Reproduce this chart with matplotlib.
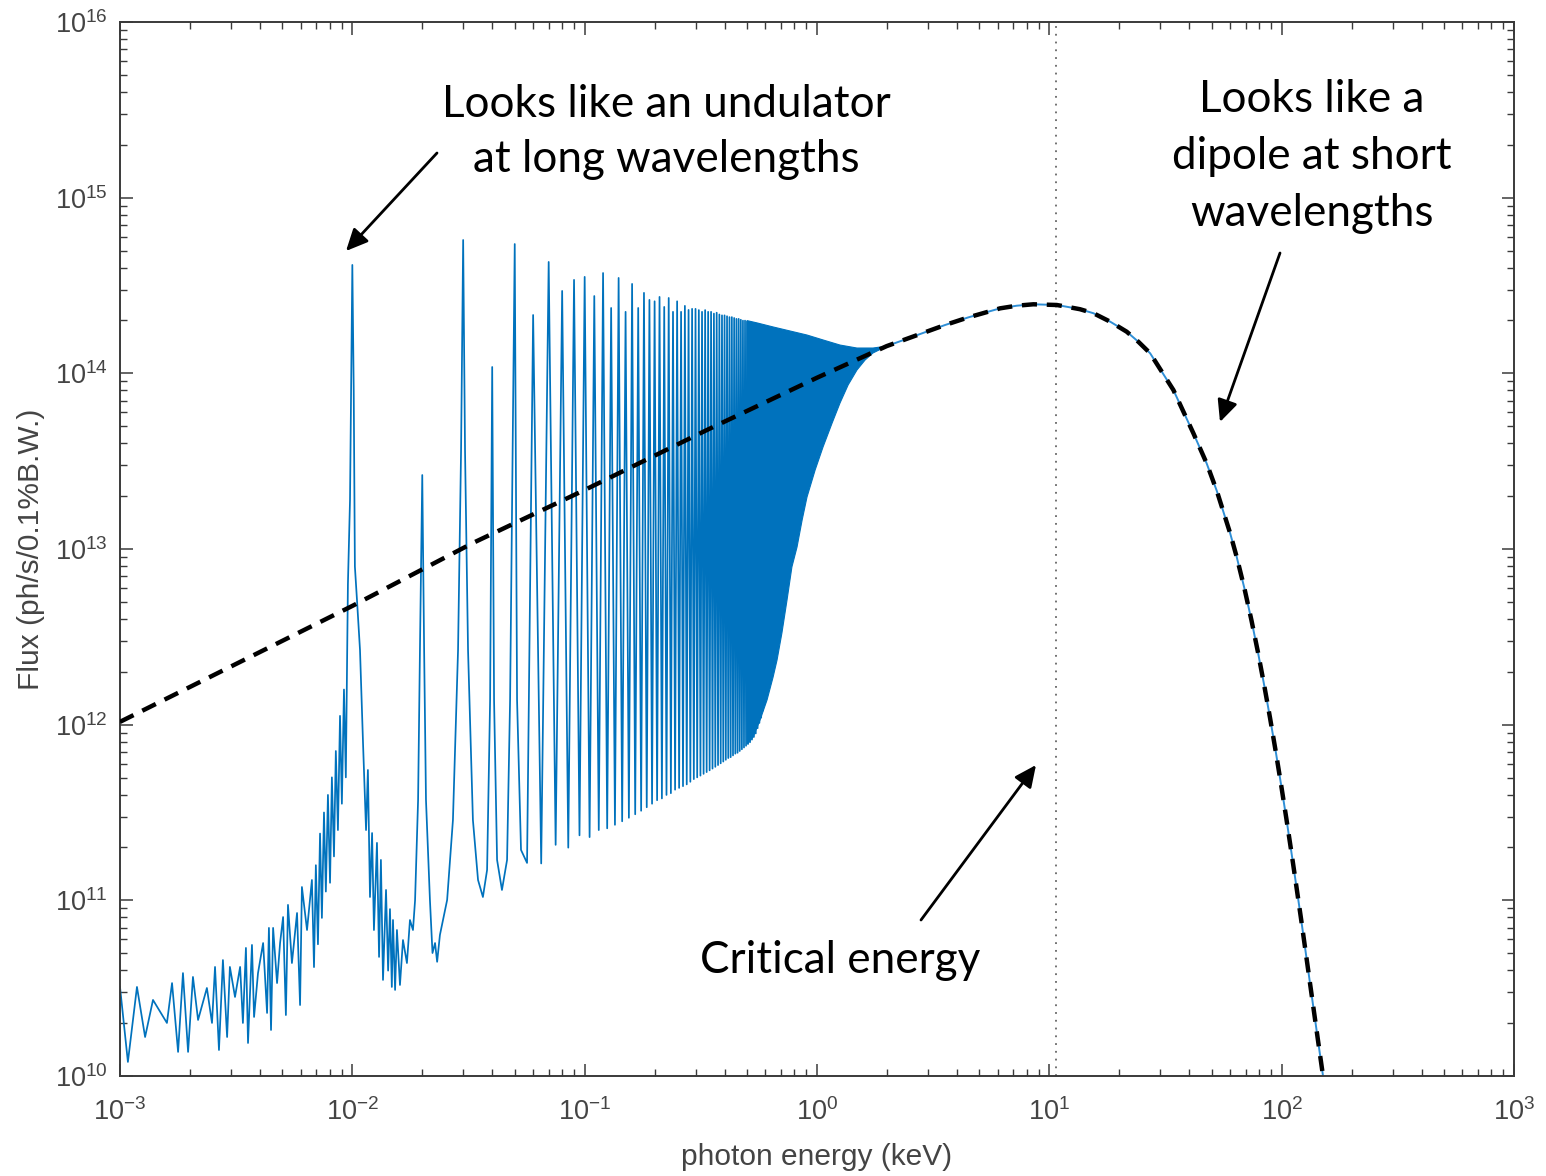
import numpy as np
import matplotlib
matplotlib.use("Agg")
import matplotlib.pyplot as plt
from matplotlib.ticker import LogLocator, NullFormatter

plt.rcParams['font.family'] = ['Liberation Sans', 'DejaVu Sans']
plt.rcParams['mathtext.fontset'] = 'custom'
plt.rcParams['mathtext.rm'] = 'Liberation Sans'
plt.rcParams['mathtext.it'] = 'Liberation Sans:italic'
plt.rcParams['mathtext.default'] = 'regular'

# ---------------- data (log10 values) ----------------
# low-energy noisy part + first five harmonics: log10(E/keV), log10(flux)
low_logE = [-3.000, -2.966, -2.927, -2.892, -2.858, -2.798, -2.776, -2.750, -2.729, -2.707,
            -2.686, -2.664, -2.626, -2.604, -2.591, -2.574, -2.557, -2.539, -2.527, -2.505,
            -2.483, -2.471, -2.458, -2.449, -2.432, -2.423, -2.406, -2.384, -2.367, -2.359,
            -2.350, -2.341, -2.324, -2.311, -2.298, -2.286, -2.277, -2.260, -2.238, -2.225,
            -2.217, -2.195, -2.174, -2.165, -2.157, -2.148, -2.139, -2.131, -2.122, -2.114,
            -2.105, -2.096, -2.088, -2.079, -2.071, -2.062, -2.053, -2.045, -2.036, -2.028,
            -2.019, -2.010, -2.000, -1.994, -1.989, -1.980, -1.967, -1.954, -1.941,
            -1.933, -1.924, -1.915, -1.907, -1.894, -1.885, -1.877, -1.868, -1.855, -1.846,
            -1.838, -1.830, -1.825, -1.816, -1.808, -1.795, -1.782, -1.765, -1.752, -1.739,
            -1.730, -1.717, -1.709,
            -1.699, -1.691, -1.683, -1.666, -1.655, -1.644, -1.635, -1.623, -1.592, -1.567,
            -1.545, -1.532,
            -1.523, -1.515, -1.502, -1.481, -1.459, -1.438, -1.420, -1.407, -1.398, -1.390,
            -1.377, -1.356, -1.334, -1.321, -1.301, -1.291, -1.274, -1.248]
low_logF = [10.507, 10.080, 10.507, 10.222, 10.433, 10.302, 10.529, 10.137, 10.586, 10.137,
            10.564, 10.319, 10.501, 10.302, 10.621, 10.148, 10.660, 10.222, 10.621, 10.450,
            10.621, 10.302, 10.729, 10.188, 10.746, 10.336, 10.586, 10.757, 10.359, 10.843,
            10.262, 10.843, 10.529, 10.757, 10.905, 10.347, 10.974, 10.643, 10.928, 10.404,
            11.076, 10.831, 11.116, 10.620, 11.200, 10.750, 11.380, 10.900, 11.500, 11.050,
            11.600, 11.100, 11.700, 11.250, 11.850, 11.400, 12.050, 11.550, 12.200, 11.700,
            12.800, 13.279, 14.617, 13.900, 12.900, 12.710, 12.425, 11.896, 11.400,
            11.742, 11.019, 11.383, 10.831, 11.327, 10.678, 11.230, 10.547, 11.059, 10.600,
            10.950, 10.507, 10.888, 10.490, 10.831, 10.518, 10.774, 10.643, 10.888, 10.831,
            11.000, 11.571, 12.425,
            13.421, 12.425, 11.571, 11.002, 10.700, 10.757, 10.650, 10.803, 11.002, 11.457,
            12.425, 13.564,
            14.759, 13.564, 12.425, 11.457, 11.116, 11.019, 11.173, 12.141, 14.036, 12.141,
            11.230, 11.059, 11.230, 12.141, 14.736, 12.141, 11.287, 11.213]

# harmonics 6..60 (keV), peak heights and following troughs (log10 flux)
harm_E = [0.06, 0.07, 0.08, 0.09, 0.10, 0.11, 0.12, 0.13, 0.14, 0.15,
          0.16, 0.17, 0.18, 0.19, 0.20, 0.21, 0.22, 0.23, 0.24, 0.25,
          0.26, 0.27, 0.28, 0.29, 0.30, 0.31, 0.32, 0.33, 0.34, 0.35,
          0.36, 0.37, 0.38, 0.39, 0.40, 0.41, 0.42, 0.43, 0.44, 0.45,
          0.46, 0.47, 0.48, 0.49, 0.50, 0.51, 0.52, 0.53, 0.54, 0.55,
          0.56, 0.57, 0.58, 0.59, 0.60]
harm_peak_logF = [14.332, 14.634, 14.469, 14.532, 14.549, 14.440, 14.571, 14.372, 14.543, 14.350,
                  14.509, 14.372, 14.458, 14.418, 14.410, 14.435, 14.378, 14.429, 14.350, 14.410,
                  14.350, 14.384, 14.361, 14.367, 14.367, 14.360, 14.350, 14.360, 14.350, 14.350,
                  14.340, 14.345, 14.335, 14.330, 14.330, 14.325, 14.320, 14.320, 14.315, 14.310,
                  14.310, 14.305, 14.300, 14.300, 14.295, 14.290, 14.290, 14.285, 14.285, 14.280,
                  14.280, 14.275, 14.270, 14.270, 14.265]
harm_trough_logF = [11.210, 11.316, 11.300, 11.370, 11.360, 11.400, 11.410, 11.430, 11.450, 11.470,
                    11.490, 11.510, 11.530, 11.550, 11.570, 11.580, 11.600, 11.610, 11.630, 11.640,
                    11.650, 11.660, 11.675, 11.690, 11.700, 11.710, 11.720, 11.730, 11.740, 11.750,
                    11.760, 11.770, 11.780, 11.790, 11.800, 11.810, 11.815, 11.825, 11.835, 11.840,
                    11.850, 11.860, 11.870, 11.880, 11.890, 11.900, 11.915, 11.930, 11.950, 11.980,
                    12.010, 12.040, 12.080, 12.120, 12.160]

# dense (unresolved) harmonics region: upper / lower envelopes
dense_up_logE = [-0.301, -0.258, -0.189, -0.116, -0.043, 0.026, 0.099, 0.172, 0.241, 0.301]
dense_up_logF = [14.300, 14.287, 14.264, 14.241, 14.218, 14.190, 14.161, 14.144, 14.144, 14.155]
dense_lo_logE = [-0.301, -0.275, -0.245, -0.215, -0.189, -0.172, -0.151, -0.129, -0.108, -0.086,
                 -0.064, -0.043, -0.008, 0.026, 0.065, 0.099, 0.134, 0.172, 0.207, 0.241, 0.301]
dense_lo_logF = [11.890, 11.930, 12.027, 12.141, 12.271, 12.368, 12.522, 12.710, 12.898, 13.011,
                 13.165, 13.296, 13.450, 13.581, 13.717, 13.831, 13.934, 14.019, 14.076, 14.116, 14.155]

# bending-magnet (dipole) spectrum
dip_logE = [-3.0, -2.0, -1.48, -1.0, -0.473, 0.0, 0.30, 0.551, 0.65, 0.788, 0.86, 0.931, 1.032,
            1.075, 1.132, 1.190, 1.262, 1.333, 1.383, 1.434, 1.534, 1.620, 1.677, 1.721, 1.778,
            1.807, 1.840, 1.870, 1.898, 1.925, 1.950, 1.975, 1.998, 2.020, 2.042, 2.064, 2.085,
            2.106, 2.126, 2.145, 2.163, 2.178]
dip_logF = [12.016, 12.676, 13.035, 13.336, 13.678, 13.975, 14.155, 14.275, 14.318, 14.370, 14.385,
            14.393, 14.389, 14.379, 14.365, 14.342, 14.294, 14.237, 14.180, 14.114, 13.905, 13.659,
            13.488, 13.330, 13.091, 12.952, 12.774, 12.594, 12.412, 12.223, 12.038, 11.843, 11.654,
            11.467, 11.273, 11.073, 10.880, 10.680, 10.490, 10.310, 10.140, 10.0]
merge_logE = 0.30
critical_energy = 10.7  # keV

x_ticks = [1e-3, 1e-2, 1e-1, 1e0, 1e1, 1e2, 1e3]
y_ticks = [1e10, 1e11, 1e12, 1e13, 1e14, 1e15, 1e16]

# ---------------- figure ----------------
W, H = 1546, 1176
fig = plt.figure(figsize=(W / 100, H / 100), dpi=100)
ax = fig.add_axes([120 / W, 1 - 1076 / H, 1394 / W, 1054 / H])
blue = '#0072BD'

# resolved part of the wiggler spectrum
xs = list(10 ** np.array(low_logE))
ys = list(10 ** np.array(low_logF))
for i, (e, p, t) in enumerate(zip(harm_E, harm_peak_logF, harm_trough_logF)):
    xs.append(e)
    ys.append(10 ** p)
    e_next = harm_E[i + 1] if i + 1 < len(harm_E) else e + 0.01
    xs.append(0.5 * (e + e_next))
    ys.append(10 ** t)
ax.plot(xs, ys, color=blue, lw=1.25, zorder=2, solid_joinstyle='round')

# unresolved dense region
poly_x = list(10 ** np.array(dense_up_logE)) + list(10 ** np.array(dense_lo_logE))[::-1]
poly_y = list(10 ** np.array(dense_up_logF)) + list(10 ** np.array(dense_lo_logF))[::-1]
ax.fill(poly_x, poly_y, color=blue, lw=0.8, ec=blue, zorder=2)

# high energy part follows dipole
dE = np.array(dip_logE)
dF = np.array(dip_logF)
m = dE >= merge_logE
ax.plot(10 ** dE[m], 10 ** dF[m], color='#2f8fd6', lw=1.4, zorder=2)

# dipole dashed
ax.plot(10 ** dE, 10 ** dF, color='black', lw=3.2, ls=(0, (3.4, 2.2)), zorder=3)

# critical energy
ax.axvline(critical_energy, color='#666666', lw=1.3, ls=(0, (1, 3.3)), zorder=1)

ax.set_xscale('log')
ax.set_yscale('log')
ax.set_xlim(1e-3, 1e3)
ax.set_ylim(1e10, 1e16)
ax.set_xticks(x_ticks)
ax.set_yticks(y_ticks)
for axis in (ax.xaxis, ax.yaxis):
    axis.set_minor_locator(LogLocator(base=10, subs=np.arange(2, 10), numticks=100))
    axis.set_minor_formatter(NullFormatter())

spine_col = '#3a3a3a'
for s in ax.spines.values():
    s.set_color(spine_col)
    s.set_linewidth(1.4)
ax.tick_params(which='both', direction='in', top=True, right=True, colors=spine_col,
               labelcolor='#444444', labelsize=19.5)
ax.tick_params(which='major', length=9, width=1.1)
ax.tick_params(which='minor', length=5, width=1.0)
ax.tick_params(axis='x', which='major', pad=16)
ax.tick_params(axis='y', which='major', pad=9)

ax.set_xlabel('photon energy (keV)', fontsize=21.5, color='#444444')
ax.set_ylabel('Flux (ph/s/0.1%B.W.)', fontsize=21.5, color='#444444')
ax.xaxis.set_label_coords(0.5, -0.064)
ax.yaxis.set_label_coords(-0.054, 0.5)

# ---------------- annotations ----------------
ann_font = ['Lato', 'DejaVu Sans']
lines = [("Looks like an undulator", 666, 117),
         ("at long wavelengths", 666, 172),
         ("Looks like a", 1312, 112),
         ("dipole at short", 1312, 169),
         ("wavelengths", 1312, 226),
         ("Critical energy", 840, 973)]
texts = []
for s, x, y in lines:
    texts.append(fig.text(x / W, 1 - y / H, s, ha='center', va='baseline',
                          fontsize=31, family=ann_font, color='black'))
# scale font so the first line matches the measured width in the picture (447 px)
fig.canvas.draw()
r = fig.canvas.get_renderer()
w0 = texts[0].get_window_extent(r).width
scale = 447 / w0
for t in texts:
    t.set_fontsize(31 * scale)

arrows = [((437, 153), (346, 251)),
          ((1280, 253), (1220, 422)),
          ((921, 920), (1036, 765))]
for (x0, y0), (x1, y1) in arrows:
    ax.annotate('', xy=(x1 / W, 1 - y1 / H), xytext=(x0 / W, 1 - y0 / H),
                xycoords='figure fraction', textcoords='figure fraction',
                arrowprops=dict(arrowstyle='-|>,head_length=0.6,head_width=0.28',
                                color='black', lw=2.0, shrinkA=0, shrinkB=0,
                                mutation_scale=22))

fig.savefig('out.png', dpi=100)
